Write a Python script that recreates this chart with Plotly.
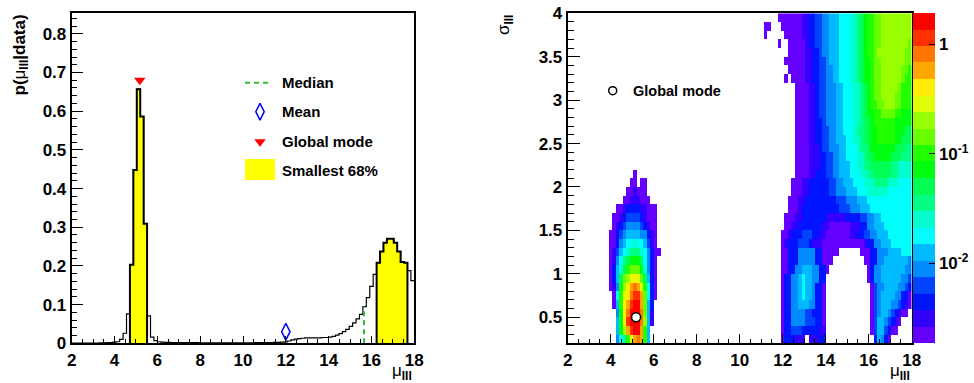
import math
import colorsys
import plotly.graph_objects as go

W, H = 974, 383

# ---------------- marginal posterior p(mu_III | data) ----------------
MU_START = 2.0
MU_BIN = 0.16
P_MU = [
    0.0003, 0.0003, 0.0004, 0.0004, 0.0005, 0.0006, 0.0007, 0.0008, 0.0010, 0.0012,
    0.0015, 0.0020, 0.0030, 0.0040, 0.0100, 0.0260, 0.0760, 0.2030, 0.4480, 0.6570,
    0.5860, 0.3090, 0.0710, 0.0160, 0.0070, 0.0040, 0.0030, 0.0025, 0.0022, 0.0020,
    0.0019, 0.0018, 0.0017, 0.0016, 0.0016, 0.0015, 0.0015, 0.0014, 0.0014, 0.0014,
    0.0013, 0.0013, 0.0013, 0.0013, 0.0013, 0.0013, 0.0013, 0.0013, 0.0013, 0.0013,
    0.0013, 0.0014, 0.0014, 0.0015, 0.0015, 0.0016, 0.0017, 0.0018, 0.0020, 0.0022,
    0.0025, 0.0028, 0.0035, 0.0060, 0.0090, 0.0110, 0.0120, 0.0130, 0.0140, 0.0140,
    0.0140, 0.0140, 0.0140, 0.0150, 0.0150, 0.0160, 0.0180, 0.0210, 0.0250, 0.0300,
    0.0360, 0.0440, 0.0530, 0.0630, 0.0750, 0.0950, 0.1180, 0.1470, 0.1780, 0.2080,
    0.2370, 0.2600, 0.2700, 0.2700, 0.2600, 0.2370, 0.2100, 0.2080, 0.1880, 0.1620,
]
SMALLEST_68_BINS = [(17, 21), (89, 97)]   # inclusive bin ranges
MEDIAN_MU = 15.65
MEAN_MU = 12.0
MEAN_MARKER_P = 0.03
MODE_MU = 5.18
MODE_MARKER_P = 0.68
MODE_SIGMA = 0.50
P_RANGE = [0, 0.853]

# ---------------- 2D posterior (mu_III, sigma_III): colour band per cell ----------------
# band characters: '.' empty, '1'..'9','a'..'k' = colour band 1..20 (log scale)
SIG_START = 0.2
SIG_BIN = 0.1
N_SIG_ROWS = 38
LOG10_Z_MIN = -2.731
LOG10_Z_MAX = 0.283
N_BANDS = 20

BLOB_FIRST_COL = 12          # rows for sigma 2.1-2.2 (top) down to 0.2-0.3
BLOB_ROWS = [
    ".......1.......",
    "......11.11....",
    ".....112111....",
    "....11222111...",
    "..112333322111.",
    ".1123444432111.",
    ".1234555543211.",
    "11345666655321.",
    "11356778776421.",
    "124678999875311",
    "12579abbba7531.",
    "1368acdddb8531.",
    "136adefgfda631.",
    "125beghihfc731.",
    ".17cfgijjhd731.",
    ".16cghjkkhd63..",
    "..5bgikkkid62..",
    "..6bgjkkkie62..",
    "..6behjkkhc6...",
    "..579cfhihc6...",
]

RIGHT_FIRST_COL = 56         # run-length rows for sigma 3.9-4.0 (top) down to 0.2-0.3
RIGHT_ROWS = [
    ".x5 1x7 2x2 3x2 4x2 5x2 6x3 7x3 8x2 9 a b cx2 dx2 ex9",
    ". 1x2 .x3 1x6 2x2 3x2 4x2 5x2 6x3 7x3 8x2 9 a b cx2 dx2 ex9",
    ". 1 .x5 1x5 2x2 3x2 4x2 5x2 6x3 7x3 8x2 9 a b cx2 dx2 ex9",
    ".x5 1 .x2 1x5 2 3x2 4x2 5x2 6x3 7x3 8x2 9 a b cx2 dx2 ex8 d",
    ".x8 1x5 2x2 3x2 4 5x2 6x3 7x3 8x2 9 a b cx2 d ex8 dx2",
    ".x7 1x6 2x2 3x2 4x2 5 6x3 7x3 8x2 9 a bx2 c dx2 ex7 dx2",
    ".x8 1x5 2x2 3x2 4x2 5x2 6x2 7x3 8x2 9 a bx2 c dx2 ex6 dx2 c",
    ".x7 1 . 1x4 2x2 3x2 4x2 5x2 6x2 7x3 8x2 9 a bx2 c dx2 ex6 d cx2",
    ".x10 1x4 2x2 3 4x2 5x3 6x2 7x3 8x2 9 a b c dx2 ex5 d cx3",
    ".x10 1x4 2x2 3 4x2 5x3 6x2 7x3 8x2 9 a b c dx2 ex4 dx2 cx3",
    ".x10 1x4 2x2 3 4x2 5x3 6x2 7x3 8x2 9 a b cx2 dx2 ex3 dx2 cx3",
    ".x10 1x4 2x2 3 4x2 5x3 6x2 7x3 8x2 9 a b b cx2 dx4 cx2 bx3",
    ".x10 1x4 2x2 3x2 4 5x3 6x2 7x3 8x2 9 ax2 b cx6 bx5",
    ".x10 1x4 2x2 3x2 4x2 5x2 6x2 7x3 8 9x2 ax2 bx2 cx5 bx3 ax2",
    ".x10 1x4 2x2 3x2 4x2 5x2 6x3 7x2 8x2 9 ax2 bx2 cx5 bx2 ax3",
    ".x10 1x4 2x3 3 4x2 5x3 6x2 7x3 8 9x2 a bx7 ax3 9x2",
    ".x10 1x4 2x3 3x2 4x2 5x2 6x2 7x3 8x2 9 ax2 bx5 ax3 9x3",
    ".x10 1x4 2x3 3x2 4x2 5x2 6x3 7x2 8x2 9x2 ax6 9x2 8x4",
    ".x10 1x4 2x2 3x3 4x2 5x2 6x3 7x3 8x2 9x2 ax5 9x2 8x4",
    ".x9 1x3 2x2 3x6 4x2 5x2 6x3 7x3 8x3 9x4 8x3 7x4",
    ".x9 1x3 2x2 3x6 4x2 5x3 6x3 7x3 8x6 7x7",
    ".x8 1x3 2x2 3x9 4x3 5x3 6x3 7x13",
    ".x8 1x3 2 3x11 4x3 5x3 6x3 7x12",
    ".x7 1x3 2x2 3x7 2x6 3x4 4x2 5x2 6x2 7x9",
    ".x7 1x2 2x2 3x7 2x2 1x6 2x3 3x2 5x2 6x3 7x8",
    ".x6 1x2 2 3x3 4x3 3x2 2x2 1x7 2x2 3x2 4x2 5x2 6x3 7x7",
    ".x6 1 2 3x3 4x3 3 2x3 1x12 2 3x2 5x2 6x3 7x6",
    ".x6 1x2 3x3 5x5 3x2 1x5 .x6 1x3 3x2 5x3 6x4 7x3",
    ".x6 1x2 3x3 5x5 3x2 1x3 .x9 1x2 3x2 5x2 6x7 5",
    ".x6 1x2 3x2 5x2 6x3 5x2 3x2 1 .x11 1 3 5x2 6x7 5x2",
    ".x6 1 3x2 5x2 6 7 6x2 5x2 3x2 .x12 1 3 5x2 6x6 5x2 4",
    ".x6 1 3x2 5x2 6 7 6x2 5 3x2 1 .x13 1 4 5x2 6x4 5x2 4 3",
    ".x6 1 3x2 5x2 6 7 6x2 5 3x2 1 .x13 1 4 5 6x4 5x2 3x2 1",
    ".x6 1 3x2 5x2 6x3 5x2 3x2 1 .x13 1 4 5 6x3 5x2 4 3 2 1",
    ".x6 1 3x2 5x4 4x2 3x3 1 .x13 1 4 5 6x2 5 4 3 2 1x2 .",
    ".x6 1 3x2 5x4 4x3 3x2 1 .x13 1 4 6x2 5 4 3 2 1 .x3",
    ".x6 1 3x2 4x3 3x5 2x2 .x13 1 4 6x2 4 3 1x2 .x4",
    ".x6 1 3x3 2x3 . 2x3 3x2 .x14 3 6 5 3 1 .x6",
]

COLORBAR_MAJOR = [(-2, "10<sup>-2</sup>"), (-1, "10<sup>-1</sup>"), (0, "1")]

# ---------------- layout constants (pixels) ----------------
L_X0, L_X1 = 71.7, 414.3
R_X0, R_X1 = 567.7, 911.7
P_Y0, P_Y1 = 13.3, 343.3
CB_X0, CB_X1 = 912.7, 934.3
FONT = "Liberation Sans, Arial, sans-serif"


def px_x(v):
    return v / W


def px_y(v):
    return 1 - v / H


def expand(rle):
    out = ""
    for tok in rle.split():
        if "x" in tok:
            ch, n = tok.split("x")
            out += ch * int(n)
        else:
            out += tok
    return out


def band(ch):
    return None if ch == "." else int(ch, 36)


N_MU = 100
step = (LOG10_Z_MAX - LOG10_Z_MIN) / N_BANDS
grid = [[None] * N_MU for _ in range(N_SIG_ROWS)]


def put(rowstr, r, c0):
    for i, ch in enumerate(rowstr):
        b = band(ch)
        c = c0 + i
        if b is not None and 0 <= c < N_MU:
            grid[r][c] = LOG10_Z_MIN + (b - 0.5) * step


for i, row in enumerate(RIGHT_ROWS):
    put(expand(row), N_SIG_ROWS - 1 - i, RIGHT_FIRST_COL)
for i, row in enumerate(BLOB_ROWS):
    put(row, len(BLOB_ROWS) - 1 - i, BLOB_FIRST_COL)


def root_color(i):
    idx = int((i + 0.99) * 50 / N_BANDS)
    hue = (280 - (idx + 1) * 5.6) % 360
    r, g, b = colorsys.hls_to_rgb(hue / 360.0, 0.5, 1.0)
    return "rgb(%d,%d,%d)" % (round(r * 255), round(g * 255), round(b * 255))


cscale = []
for i in range(N_BANDS):
    c = root_color(i)
    cscale.append([i / N_BANDS, c])
    cscale.append([(i + 1) / N_BANDS, c])

edges = [MU_START + MU_BIN * k for k in range(N_MU + 1)]
mu_centers = [MU_START + MU_BIN * (k + 0.5) for k in range(N_MU)]
sig_centers = [SIG_START + SIG_BIN * (r + 0.5) for r in range(N_SIG_ROWS)]

fig = go.Figure()

# ---- left panel ----
fig.add_trace(go.Scatter(x=edges, y=P_MU + [P_MU[-1]], mode="lines",
                         line=dict(shape="hv", color="black", width=1.2), xaxis="x", yaxis="y", showlegend=False))
for a, b in SMALLEST_68_BINS:
    xs = [edges[a]] + edges[a:b + 2]
    ys = [0] + P_MU[a:b + 1] + [0]
    fig.add_trace(go.Scatter(x=xs, y=ys, mode="lines", line=dict(shape="hv", color="black", width=2),
                             fill="tozeroy", fillcolor="#ffff00", xaxis="x", yaxis="y", showlegend=False))
med_bin = int((MEDIAN_MU - MU_START) / MU_BIN)
fig.add_trace(go.Scatter(x=[MEDIAN_MU, MEDIAN_MU], y=[0, P_MU[med_bin]], mode="lines",
                         line=dict(color="#33bb33", width=2, dash="5px,4px"), xaxis="x", yaxis="y", showlegend=False))
fig.add_trace(go.Scatter(x=[MEAN_MU], y=[MEAN_MARKER_P], mode="markers",
                         marker=dict(symbol="diamond-tall-open", size=12, color="#0000ff", line=dict(width=1.5, color="#0000ff")),
                         xaxis="x", yaxis="y", showlegend=False, cliponaxis=False))
fig.add_trace(go.Scatter(x=[MODE_MU], y=[MODE_MARKER_P], mode="markers",
                         marker=dict(symbol="triangle-down", size=10, color="#ff0000"),
                         xaxis="x", yaxis="y", showlegend=False))

# ---- right panel ----
fig.add_trace(go.Heatmap(
    z=grid, x=mu_centers, y=sig_centers, zmin=LOG10_Z_MIN, zmax=LOG10_Z_MAX,
    colorscale=cscale, xaxis="x2", yaxis="y2", hoverinfo="skip",
    colorbar=dict(
        x=px_x(CB_X0), xanchor="left", xref="paper", xpad=0, ypad=0,
        y=px_y(P_Y1), yanchor="bottom", len=(P_Y1 - P_Y0) / H, lenmode="fraction",
        thickness=CB_X1 - CB_X0, thicknessmode="pixels", outlinewidth=0,
        tickvals=[t for t, _ in COLORBAR_MAJOR], ticktext=[s for _, s in COLORBAR_MAJOR],
        ticks="inside", ticklen=6, tickwidth=1, tickcolor="black",
        tickfont=dict(family=FONT, size=17, color="black", weight="bold"),
    ),
))
fig.add_trace(go.Scatter(x=[MODE_MU], y=[MODE_SIGMA], mode="markers",
                         marker=dict(symbol="circle", size=9, color="white", line=dict(width=1.5, color="black")),
                         xaxis="x2", yaxis="y2", showlegend=False))

# ---- legend glyphs on a pixel overlay ----
LEG_SYM_X = 260
LEG_TXT_X = 280
LEG_ROWS_Y = [82.7, 111.7, 141.7, 170.7]
fig.add_trace(go.Scatter(x=[LEG_SYM_X - 15, LEG_SYM_X + 12], y=[LEG_ROWS_Y[0]] * 2, mode="lines",
                         line=dict(color="#33bb33", width=2, dash="5px,4px"), xaxis="x3", yaxis="y3", showlegend=False))
fig.add_trace(go.Scatter(x=[LEG_SYM_X], y=[LEG_ROWS_Y[1]], mode="markers",
                         marker=dict(symbol="diamond-tall-open", size=12, color="#0000ff", line=dict(width=1.5, color="#0000ff")),
                         xaxis="x3", yaxis="y3", showlegend=False))
fig.add_trace(go.Scatter(x=[LEG_SYM_X], y=[LEG_ROWS_Y[2]], mode="markers",
                         marker=dict(symbol="triangle-down", size=10, color="#ff0000"),
                         xaxis="x3", yaxis="y3", showlegend=False))
R_LEG_SYM = (612.7, 90.7)
fig.add_trace(go.Scatter(x=[R_LEG_SYM[0]], y=[R_LEG_SYM[1]], mode="markers",
                         marker=dict(symbol="circle-open", size=8, color="black", line=dict(width=1.5)),
                         xaxis="x3", yaxis="y3", showlegend=False))

shapes = [
    dict(type="rect", xref="paper", yref="paper", x0=px_x(245), x1=px_x(275), y0=px_y(180), y1=px_y(159),
         fillcolor="#ffff00", line=dict(width=0)),
    dict(type="line", xref="paper", yref="paper", x0=px_x(CB_X1), x1=px_x(CB_X1), y0=px_y(P_Y1), y1=px_y(P_Y0),
         line=dict(color="black", width=1)),
]
for dec in (-3, -2, -1, 0):
    for m in range(2, 10):
        v = dec + math.log10(m)
        if LOG10_Z_MIN < v < LOG10_Z_MAX:
            yy = P_Y1 - (v - LOG10_Z_MIN) / (LOG10_Z_MAX - LOG10_Z_MIN) * (P_Y1 - P_Y0)
            shapes.append(dict(type="line", xref="paper", yref="paper", x0=px_x(CB_X1 - 3.5), x1=px_x(CB_X1),
                               y0=px_y(yy), y1=px_y(yy), line=dict(color="black", width=1)))

BOLD = dict(family=FONT, size=15, color="black", weight="bold")
annotations = []
for txt, yy in zip(["Median", "Mean", "Global mode", "Smallest 68%"], LEG_ROWS_Y):
    annotations.append(dict(text=txt, x=px_x(LEG_TXT_X), y=px_y(yy), xref="paper", yref="paper",
                            xanchor="left", yanchor="middle", showarrow=False, font=BOLD))
annotations.append(dict(text="Global mode", x=px_x(630.7), y=px_y(R_LEG_SYM[1]), xref="paper", yref="paper",
                        xanchor="left", yanchor="middle", showarrow=False,
                        font=dict(family=FONT, size=14.5, color="black", weight="bold")))
TITLE_FONT = dict(family=FONT, size=17, color="black", weight="bold")
MU_TXT = '<span style="font-weight:normal">\u03bc</span><sub>III</sub>'
annotations += [
    dict(text="p(" + MU_TXT + "|data)", textangle=-90, x=px_x(20), y=px_y(13), xref="paper", yref="paper",
         xanchor="center", yanchor="top", showarrow=False, font=TITLE_FONT),
    dict(text=MU_TXT, x=px_x(L_X1), y=px_y(359), xref="paper", yref="paper",
         xanchor="right", yanchor="top", showarrow=False, font=TITLE_FONT),
    dict(text='<span style="font-weight:normal">\u03c3</span><sub>III</sub>', textangle=-90,
         x=px_x(505), y=px_y(13), xref="paper", yref="paper",
         xanchor="center", yanchor="top", showarrow=False, font=TITLE_FONT),
    dict(text=MU_TXT, x=px_x(R_X1), y=px_y(359), xref="paper", yref="paper",
         xanchor="right", yanchor="top", showarrow=False, font=TITLE_FONT),
]

TICKFONT = dict(family=FONT, size=17, color="black", weight="bold")


def axis(domain, rng, dtick, minor_dtick, major_len, minor_len, anchor):
    return dict(domain=domain, range=rng, dtick=dtick, tick0=0, ticks="inside", ticklen=major_len,
                tickwidth=1, tickcolor="black", showline=True, linecolor="black", linewidth=2, mirror=True,
                showgrid=False, zeroline=False, tickfont=TICKFONT, anchor=anchor, automargin=False,
                minor=dict(dtick=minor_dtick, ticks="inside", ticklen=minor_len, tickcolor="black", tickwidth=1,
                           showgrid=False))


ydom = [px_y(P_Y1), px_y(P_Y0)]
fig.update_layout(
    width=W, height=H, autosize=False, margin=dict(l=0, r=0, t=0, b=0, autoexpand=False),
    paper_bgcolor="white", plot_bgcolor="rgba(0,0,0,0)",
    xaxis=axis([px_x(L_X0), px_x(L_X1)], [2, 18], 2, 0.5, 7, 4, "y"),
    yaxis=axis(ydom, P_RANGE, 0.1, 0.02, 11, 5.5, "x"),
    xaxis2=axis([px_x(R_X0), px_x(R_X1)], [2, 18], 2, 0.5, 9, 4, "y2"),
    yaxis2=axis(ydom, [SIG_START, SIG_START + SIG_BIN * N_SIG_ROWS], 0.5, 0.1, 12, 6, "x2"),
    xaxis3=dict(domain=[0, 1], range=[0, W], visible=False, anchor="y3", fixedrange=True, automargin=False),
    yaxis3=dict(domain=[0, 1], range=[H, 0], visible=False, anchor="x3", fixedrange=True, automargin=False),
    shapes=shapes, annotations=annotations, showlegend=False,
)

fig.write_html("out.html", config={"displayModeBar": False, "staticPlot": True},
               post_script="document.body.style.margin='0';document.body.style.overflow='hidden';")
